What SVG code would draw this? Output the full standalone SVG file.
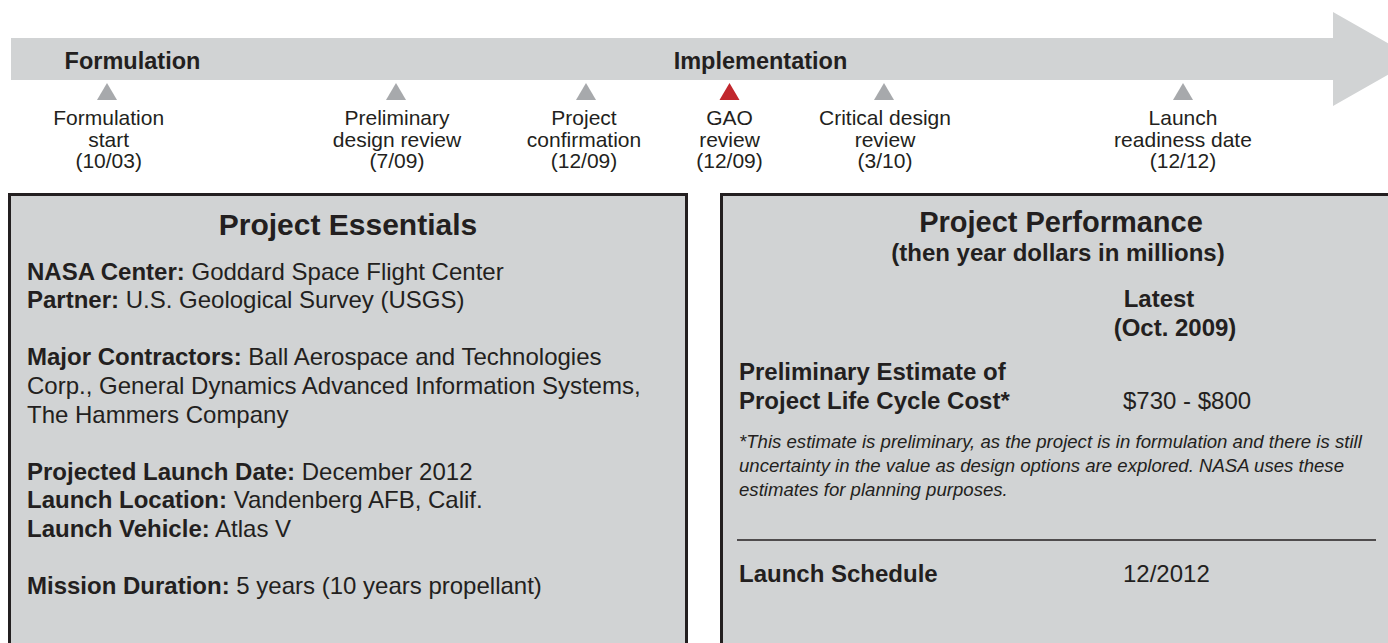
<svg xmlns="http://www.w3.org/2000/svg" width="1388" height="643" viewBox="0 0 1388 643">
<style>
text{font-family:"Liberation Sans",Arial,Helvetica,sans-serif;fill:#231f20}
.phase{font-size:23.5px;font-weight:bold;text-anchor:middle}
.ms{font-size:21px;text-anchor:middle}
.tri{fill:#a7a9ac}
.box{fill:#d1d3d4;stroke:#231f20;stroke-width:3}
.title{font-size:29px;font-weight:bold;text-anchor:middle}
.body{font-size:24px}
.b{font-weight:bold}
.note{font-size:18.6px;font-style:italic}
</style>
<g id="timeline">
<polygon points="11,38 1333,38 1333,12 1416,59 1333,106 1333,80 11,80" fill="#d1d3d4"/>
<text class="phase" x="132.5" y="69">Formulation</text>
<text class="phase" x="760.5" y="69">Implementation</text>
</g>
<g id="ms-formulation-start">
<polygon class="tri" points="97,100 107,83 117,100"/>
<text class="ms" x="108.7" y="125">Formulation</text>
<text class="ms" x="108.7" y="146.5">start</text>
<text class="ms" x="108.7" y="168">(10/03)</text>
</g>
<g id="ms-pdr">
<polygon class="tri" points="386,100 396,83 406,100"/>
<text class="ms" x="397" y="125">Preliminary</text>
<text class="ms" x="397" y="146.5">design review</text>
<text class="ms" x="397" y="168">(7/09)</text>
</g>
<g id="ms-confirmation">
<polygon class="tri" points="576,100 586,83 596,100"/>
<text class="ms" x="584" y="125">Project</text>
<text class="ms" x="584" y="146.5">confirmation</text>
<text class="ms" x="584" y="168">(12/09)</text>
</g>
<g id="ms-gao">
<polygon points="719.5,100 729.5,83 739.5,100" fill="#c1272d"/>
<text class="ms" x="729.5" y="125">GAO</text>
<text class="ms" x="729.5" y="146.5">review</text>
<text class="ms" x="729.5" y="168">(12/09)</text>
</g>
<g id="ms-cdr">
<polygon class="tri" points="874,100 884,83 894,100"/>
<text class="ms" x="885" y="125">Critical design</text>
<text class="ms" x="885" y="146.5">review</text>
<text class="ms" x="885" y="168">(3/10)</text>
</g>
<g id="ms-launch">
<polygon class="tri" points="1173,100 1183,83 1193,100"/>
<text class="ms" x="1183" y="125">Launch</text>
<text class="ms" x="1183" y="146.5">readiness date</text>
<text class="ms" x="1183" y="168">(12/12)</text>
</g>
<g id="project-essentials">
<rect class="box" x="9.5" y="194.5" width="677" height="470"/>
<text class="title" x="348" y="235" style="font-size:30px">Project Essentials</text>
<text class="body" x="27" y="279.5"><tspan class="b">NASA Center:</tspan> Goddard Space Flight Center</text>
<text class="body" x="27" y="308.1"><tspan class="b">Partner:</tspan> U.S. Geological Survey (USGS)</text>
<text class="body" x="27" y="365.3"><tspan class="b">Major Contractors:</tspan> Ball Aerospace and Technologies</text>
<text class="body" x="27" y="393.9">Corp., General Dynamics Advanced Information Systems,</text>
<text class="body" x="27" y="422.5">The Hammers Company</text>
<text class="body" x="27" y="479.7"><tspan class="b">Projected Launch Date:</tspan> December 2012</text>
<text class="body" x="27" y="508.3"><tspan class="b">Launch Location:</tspan> Vandenberg AFB, Calif.</text>
<text class="body" x="27" y="536.9"><tspan class="b">Launch Vehicle:</tspan> Atlas V</text>
<text class="body" x="27" y="594.1"><tspan class="b">Mission Duration:</tspan> 5 years (10 years propellant)</text>
</g>
<g id="project-performance">
<rect class="box" x="721.5" y="194.5" width="690" height="470"/>
<text class="title" x="1061" y="232">Project Performance</text>
<text class="body b" x="1058" y="261" text-anchor="middle">(then year dollars in millions)</text>
<text class="body b" x="1159" y="307" text-anchor="middle">Latest</text>
<text class="body b" x="1175" y="336" text-anchor="middle">(Oct. 2009)</text>
<text class="body b" x="739" y="380">Preliminary Estimate of</text>
<text class="body b" x="739" y="409">Project Life Cycle Cost*</text>
<text class="body" x="1123" y="409">$730 - $800</text>
<text class="note" x="739" y="448">*This estimate is preliminary, as the project is in formulation and there is still</text>
<text class="note" x="739" y="472">uncertainty in the value as design options are explored. NASA uses these</text>
<text class="note" x="739" y="496">estimates for planning purposes.</text>
<line x1="737" y1="540" x2="1376" y2="540" stroke="#231f20" stroke-width="1.5"/>
<text class="body b" x="739" y="581.5">Launch Schedule</text>
<text class="body" x="1123" y="581.5">12/2012</text>
</g>
<g id="connectors"/>
</svg>
